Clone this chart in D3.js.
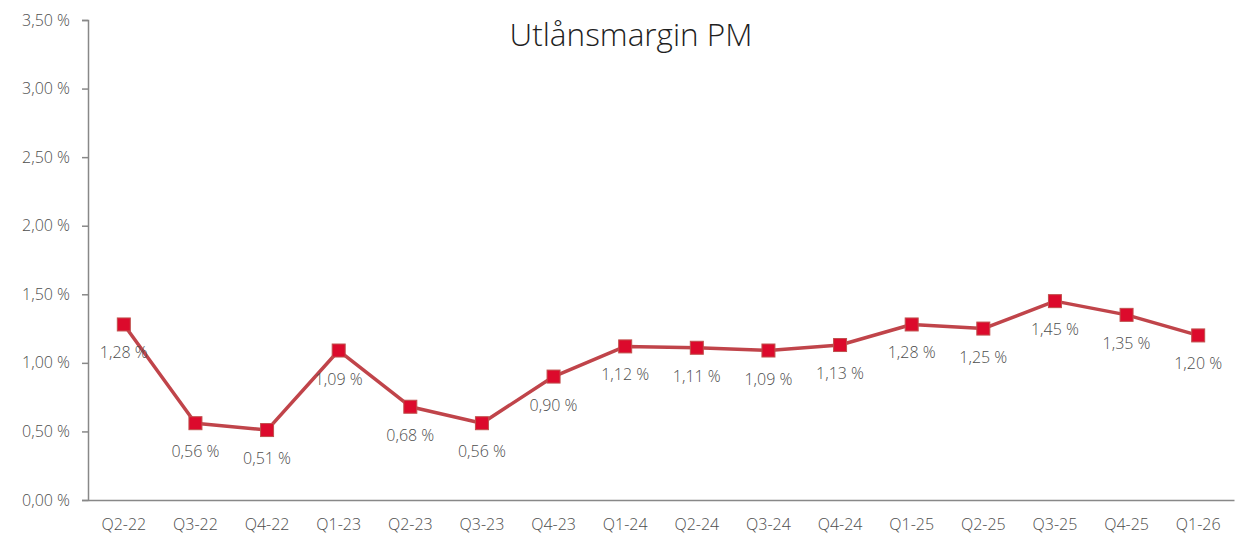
<!DOCTYPE html>
<html>
<head>
<meta charset="utf-8">
<script src="https://cdn.jsdelivr.net/npm/d3@7"></script>
<style>
  body { margin: 0; background: #fff; }
  text { font-family: "Open Sans", sans-serif; }
</style>
</head>
<body>
<div id="chart"></div>
<script>
// chart data
var quarters = ["Q2-22", "Q3-22", "Q4-22", "Q1-23", "Q2-23", "Q3-23", "Q4-23", "Q1-24",
                "Q2-24", "Q3-24", "Q4-24", "Q1-25", "Q2-25", "Q3-25", "Q4-25", "Q1-26"];
var margins = [1.28, 0.56, 0.51, 1.09, 0.68, 0.56, 0.90, 1.12,
               1.11, 1.09, 1.13, 1.28, 1.25, 1.45, 1.35, 1.20];
var yTicks = [0, 0.5, 1, 1.5, 2, 2.5, 3, 3.5];

var width = 1236, height = 536;
// plot edges (note: "top" is a reserved window prop, so use plot* names)
var plotLeft = 88, plotRight = 1234, plotTop = 20, plotBottom = 500;
var textGrey = "#4d4d4d";

var fmt = function (v) { return v.toFixed(2).replace(".", ",") + " %"; };

var svg = d3.select("#chart").append("svg")
  .attr("width", width).attr("height", height);

var x = d3.scaleBand().domain(quarters).range([plotLeft, plotRight]).padding(0);
var y = d3.scaleLinear().domain([0, 3.5]).range([plotBottom, plotTop]);

// title
svg.append("text")
  .attr("x", 631).attr("y", 46)
  .attr("text-anchor", "middle")
  .attr("font-size", 31.5).attr("font-weight", 300)
  .attr("fill", "#1f1f1f")
  .text("Utlånsmargin PM");

// y axis
var yAxis = svg.append("g")
  .attr("transform", "translate(" + plotLeft + ",0)")
  .call(d3.axisLeft(y).tickValues(yTicks).tickFormat(fmt).tickSize(6).tickPadding(12));
yAxis.select(".domain").attr("stroke", "#888").attr("stroke-width", 1.5);
yAxis.selectAll(".tick line").attr("stroke", "#888").attr("stroke-width", 1.5);
yAxis.selectAll(".tick text").attr("font-size", 16).attr("font-weight", 300)
  .attr("fill", textGrey).attr("font-family", "Open Sans, sans-serif");

// x axis
var xAxis = svg.append("g")
  .attr("transform", "translate(0," + plotBottom + ")")
  .call(d3.axisBottom(x).tickSize(0).tickPadding(19));
xAxis.select(".domain").attr("stroke", "#888").attr("stroke-width", 1.5);
xAxis.selectAll(".tick text").attr("font-size", 16).attr("font-weight", 300)
  .attr("fill", textGrey).attr("font-family", "Open Sans, sans-serif");

var cx = function (d, i) { return x(quarters[i]) + x.bandwidth() / 2; };

// line
var line = d3.line()
  .x(function (d, i) { return cx(d, i); })
  .y(function (d) { return y(d); });

svg.append("path")
  .datum(margins)
  .attr("fill", "none")
  .attr("stroke", "#c0444a")
  .attr("stroke-width", 3.5)
  .attr("stroke-linejoin", "round")
  .attr("d", line);

// markers
var ms = 13;
svg.selectAll("rect.marker")
  .data(margins)
  .enter().append("rect")
  .attr("class", "marker")
  .attr("x", function (d, i) { return cx(d, i) - ms / 2; })
  .attr("y", function (d) { return y(d) - ms / 2; })
  .attr("width", ms).attr("height", ms)
  .attr("fill", "#dc0a2c")
  .attr("stroke", "#c0504d")
  .attr("stroke-width", 1);

// value labels
svg.selectAll("text.lbl")
  .data(margins)
  .enter().append("text")
  .attr("class", "lbl")
  .attr("x", function (d, i) { return cx(d, i); })
  .attr("y", function (d) { return y(d) + 34; })
  .attr("text-anchor", "middle")
  .attr("font-size", 16).attr("font-weight", 300)
  .attr("fill", textGrey)
  .text(fmt);
</script>
</body>
</html>
